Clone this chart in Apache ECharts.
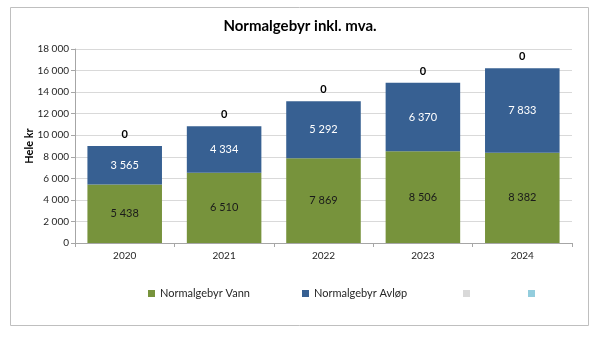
<!DOCTYPE html>
<html><head><meta charset="utf-8">
<script src="https://cdn.jsdelivr.net/npm/echarts@6/dist/echarts.min.js"></script>
<style>html,body{margin:0;padding:0;background:#fff}#c{width:600px;height:342px}</style>
</head><body><div id="c"></div>
<script>
const years = ['2020','2021','2022','2023','2024'];
const vann = [5438, 6510, 7869, 8506, 8382];
const avlop = [3565, 4334, 5292, 6370, 7833];
const extra1 = [0, 0, 0, 0, 0];
const extra2 = [0, 0, 0, 0, 0];
const seriesNames = ['Normalgebyr Vann', 'Normalgebyr Avløp', ' ', '  '];

const fmt = v => String(v).replace(/\B(?=(\d{3})+(?!\d))/g, ' ');
const FONT = 'Lato';
const chart = echarts.init(document.getElementById('c'));
const legendBase = {top: 283, itemWidth: 7, itemHeight: 7, icon: 'rect', itemGap: 4,
  textStyle: {fontFamily: FONT, fontSize: 11, color: '#262626'}};
chart.setOption({
  animation: false,
  textStyle: {fontFamily: FONT},
  title: {text: 'Normalgebyr inkl. mva.', left: 'center', top: 14,
    textStyle: {fontFamily: FONT, fontSize: 15, fontWeight: 'bold', color: '#000'}},
  graphic: [{type: 'rect', shape: {x: 10.5, y: 7.5, width: 578, height: 318},
    style: {fill: 'none', stroke: '#bfbfbf', lineWidth: 1}, silent: true}],
  grid: {left: 75, right: 28, top: 49, bottom: 99},
  legend: [
    Object.assign({}, legendBase, {left: 143, data: [seriesNames[0]]}),
    Object.assign({}, legendBase, {left: 297, data: [seriesNames[1]]}),
    Object.assign({}, legendBase, {left: 458, data: [seriesNames[2]]}),
    Object.assign({}, legendBase, {left: 523, data: [seriesNames[3]]})
  ],
  xAxis: {type: 'category', data: years,
    axisLine: {lineStyle: {color: '#a6a6a6'}},
    axisTick: {show: true, length: 4, lineStyle: {color: '#a6a6a6'}},
    axisLabel: {fontFamily: FONT, fontSize: 10, color: '#262626', margin: 8}},
  yAxis: {type: 'value', min: 0, max: 18000, interval: 2000,
    name: 'Hele kr', nameLocation: 'middle', nameGap: 40, nameRotate: 90,
    nameMoveOverlap: false,
    nameTextStyle: {fontFamily: FONT, fontSize: 11, fontWeight: 'bold', color: '#000'},
    axisLine: {show: true, lineStyle: {color: '#a6a6a6'}},
    axisTick: {show: true, inside: false, length: 4, lineStyle: {color: '#a6a6a6'}},
    splitLine: {lineStyle: {color: '#d9d9d9'}},
    axisLabel: {fontFamily: FONT, fontSize: 10, color: '#262626', margin: 6, formatter: fmt}},
  series: [
    {name: seriesNames[0], type: 'bar', stack: 's', data: vann, barCategoryGap: '25%',
      itemStyle: {color: '#77933C'},
      label: {show: true, position: 'inside', formatter: p => fmt(p.value),
        fontFamily: FONT, fontSize: 11, color: '#1a1a1a'}},
    {name: seriesNames[1], type: 'bar', stack: 's', data: avlop,
      itemStyle: {color: '#376092'},
      label: {show: true, position: 'inside', formatter: p => fmt(p.value),
        fontFamily: FONT, fontSize: 11, color: '#ffffff'}},
    {name: seriesNames[2], type: 'bar', stack: 's', data: extra1,
      itemStyle: {color: '#d9d9d9'},
      label: {show: true, position: 'top', distance: 6, formatter: p => fmt(p.value),
        fontFamily: FONT, fontSize: 11, fontWeight: 'bold', color: '#000'}},
    {name: seriesNames[3], type: 'bar', stack: 's', data: extra2,
      itemStyle: {color: '#93cddd'}}
  ]
});
</script></body></html>
